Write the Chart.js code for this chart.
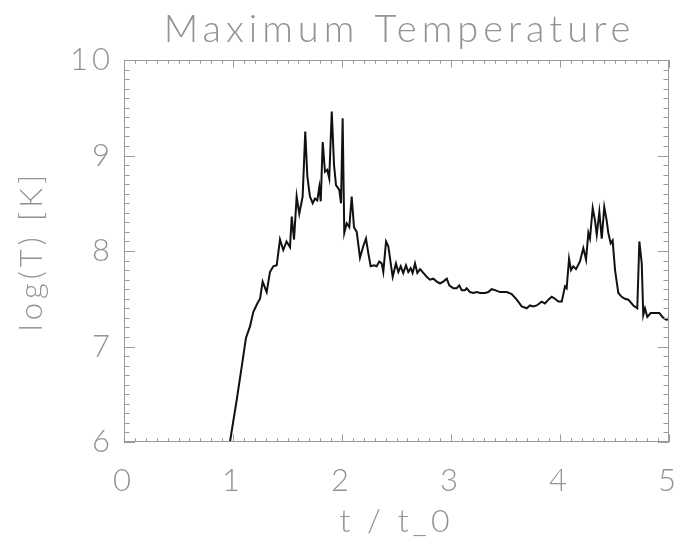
<!DOCTYPE html>
<html>
<head>
<meta charset="utf-8">
<title>Maximum Temperature</title>
<script src="https://cdn.jsdelivr.net/npm/chart.js@4.4.1/dist/chart.umd.min.js"></script>
<style>
  html, body { margin: 0; padding: 0; background: #fff; }
  #wrap { width: 677px; height: 541px; }
</style>
</head>
<body>
<div id="wrap"><canvas id="myChart" width="677" height="541"></canvas></div>
<script>
// time in units of t_0
const tValues = [
  0.972, 1.034, 1.080, 1.119, 1.156, 1.186, 1.223, 1.248, 1.272, 1.309,
  1.339, 1.370, 1.401, 1.431, 1.461, 1.491, 1.523, 1.539, 1.560, 1.584,
  1.608, 1.639, 1.663, 1.682, 1.706, 1.731, 1.752, 1.773, 1.792, 1.805,
  1.823, 1.844, 1.865, 1.883, 1.906, 1.927, 1.945, 1.975, 1.991, 2.006,
  2.021, 2.043, 2.067, 2.089, 2.110, 2.135, 2.165, 2.195, 2.220, 2.241,
  2.263, 2.294, 2.318, 2.342, 2.364, 2.379, 2.404, 2.425, 2.447, 2.465,
  2.495, 2.517, 2.539, 2.562, 2.587, 2.608, 2.630, 2.648, 2.670, 2.691,
  2.716, 2.746, 2.777, 2.807, 2.838, 2.869, 2.899, 2.929, 2.961, 2.984,
  3.021, 3.052, 3.076, 3.098, 3.128, 3.144, 3.174, 3.205, 3.236, 3.266,
  3.312, 3.342, 3.373, 3.404, 3.450, 3.511, 3.557, 3.603, 3.649, 3.694,
  3.725, 3.755, 3.786, 3.832, 3.862, 3.893, 3.924, 3.954, 3.985, 4.016,
  4.046, 4.061, 4.083, 4.101, 4.122, 4.147, 4.183, 4.214, 4.239, 4.260,
  4.275, 4.300, 4.321, 4.337, 4.361, 4.383, 4.406, 4.428, 4.443, 4.465,
  4.483, 4.505, 4.535, 4.566, 4.596, 4.627, 4.673, 4.709, 4.728, 4.750,
  4.764, 4.780, 4.801, 4.832, 4.872, 4.911, 4.948, 4.979, 5.000
];

// log10 of the peak temperature
const logT = [
  6.00, 6.44, 6.79, 7.09, 7.21, 7.36, 7.45, 7.50, 7.68, 7.57,
  7.78, 7.84, 7.85, 8.12, 8.01, 8.10, 8.04, 8.36, 8.12, 8.57,
  8.39, 8.57, 9.25, 8.78, 8.57, 8.50, 8.55, 8.53, 8.67, 8.52,
  9.14, 8.83, 8.85, 8.76, 9.46, 8.90, 8.69, 8.64, 8.50, 9.39,
  8.19, 8.29, 8.25, 8.57, 8.25, 8.20, 7.93, 8.05, 8.13, 7.98,
  7.84, 7.85, 7.84, 7.89, 7.87, 7.78, 8.10, 8.05, 7.87, 7.73,
  7.87, 7.78, 7.84, 7.77, 7.85, 7.78, 7.82, 7.77, 7.87, 7.77,
  7.81, 7.77, 7.73, 7.70, 7.71, 7.68, 7.66, 7.68, 7.71, 7.64,
  7.61, 7.61, 7.64, 7.59, 7.59, 7.61, 7.57, 7.56, 7.57, 7.56,
  7.56, 7.57, 7.60, 7.59, 7.57, 7.57, 7.55, 7.49, 7.42, 7.40,
  7.43, 7.42, 7.43, 7.47, 7.45, 7.49, 7.52, 7.50, 7.47, 7.47,
  7.63, 7.61, 7.92, 7.80, 7.84, 7.81, 7.89, 8.03, 7.91, 8.19,
  8.13, 8.45, 8.32, 8.17, 8.41, 8.13, 8.46, 8.32, 8.19, 8.08,
  8.11, 7.80, 7.56, 7.52, 7.50, 7.49, 7.43, 7.40, 8.10, 7.87,
  7.33, 7.40, 7.31, 7.35, 7.35, 7.35, 7.30, 7.28, 7.30
];

const xTicks = [0, 1, 2, 3, 4, 5];
const yTicks = [6, 7, 8, 9, 10];
const plotTitle = 'Maximum Temperature';

const textGray = '#939393';
const axisGray = '#9a9a9a';
const fontFamily = 'Lato, "Open Sans", sans-serif';

// IDL-style frame: box on all four sides, ticks pointing into the plot,
// title centred over the plot area rather than the whole canvas
const framePlugin = {
    id: 'frame',
    beforeDraw(chart) {
        chart.ctx.letterSpacing = '4px';
    },
    afterDatasetsDraw(chart) {
        const ctx = chart.ctx;
        const a = chart.chartArea;
        const xs = chart.scales.x;
        const ys = chart.scales.y;
        ctx.save();
        ctx.strokeStyle = axisGray;
        ctx.lineWidth = 1;
        ctx.beginPath();
        ctx.rect(a.left + 0.5, a.top + 0.5, a.right - a.left - 1, a.bottom - a.top - 1);

        for (let i = 0; i <= 50; i++) {
            const v = xs.min + i * 0.1;
            const px = Math.round(xs.getPixelForValue(v)) + 0.5;
            const len = (i % 10 === 0) ? 7.6 : 3.8;
            ctx.moveTo(px, a.bottom);
            ctx.lineTo(px, a.bottom - len);
            ctx.moveTo(px, a.top);
            ctx.lineTo(px, a.top + len);
        }
        for (let i = 0; i <= 40; i++) {
            const v = ys.min + i * 0.1;
            const py = Math.round(ys.getPixelForValue(v)) + 0.5;
            const len = (i % 10 === 0) ? 11 : 5.5;
            ctx.moveTo(a.left, py);
            ctx.lineTo(a.left + len, py);
            ctx.moveTo(a.right, py);
            ctx.lineTo(a.right - len, py);
        }
        ctx.stroke();

        ctx.fillStyle = textGray;
        ctx.font = '300 38px ' + fontFamily;
        ctx.letterSpacing = '5px';
        ctx.textAlign = 'center';
        ctx.textBaseline = 'middle';
        ctx.fillText(plotTitle, (a.left + a.right) / 2 + 3, 30);
        ctx.restore();
    }
};

const ctx = document.getElementById('myChart');

const myChart = new Chart(ctx, {
    type: 'line',
    data: {
        datasets: [{
            label: plotTitle,
            data: tValues.map((t, i) => ({ x: t, y: logT[i] })),
            borderColor: '#111',
            borderWidth: 2,
            pointRadius: 0,
            tension: 0,
            fill: false
        }]
    },
    options: {
        responsive: false,
        animation: false,
        events: [],
        layout: {
            padding: { left: 0, right: 8, top: 60, bottom: 0 }
        },
        plugins: {
            legend: { display: false },
            tooltip: { enabled: false },
            title: { display: false }
        },
        scales: {
            x: {
                type: 'linear',
                min: 0,
                max: 5,
                afterBuildTicks: (scale) => { scale.ticks = xTicks.map(v => ({ value: v })); },
                afterFit: (scale) => {
                    scale.height = 99;
                    scale.paddingLeft = 0;
                    scale.paddingRight = 0;
                },
                grid: { display: false, drawTicks: false },
                border: { display: false },
                ticks: {
                    color: textGray,
                    padding: 20,
                    maxRotation: 0,
                    font: { family: fontFamily, size: 31, weight: 300 }
                },
                title: {
                    display: true,
                    text: 't / t_0',
                    color: textGray,
                    align: 'center',
                    padding: { top: 0, bottom: 3 },
                    font: { family: fontFamily, size: 32, weight: 300, lineHeight: 1 }
                }
            },
            y: {
                type: 'linear',
                min: 6,
                max: 10,
                afterBuildTicks: (scale) => { scale.ticks = yTicks.map(v => ({ value: v })); },
                afterFit: (scale) => {
                    scale.width = 124;
                    scale.paddingTop = 0;
                    scale.paddingBottom = 0;
                },
                grid: { display: false, drawTicks: false },
                border: { display: false },
                ticks: {
                    color: textGray,
                    padding: 10,
                    font: { family: fontFamily, size: 31, weight: 300 }
                },
                title: {
                    display: true,
                    text: 'log(T) [K]',
                    color: textGray,
                    padding: { top: 16, bottom: 0 },
                    font: { family: fontFamily, size: 31, weight: 300, lineHeight: 1 }
                }
            }
        }
    },
    plugins: [framePlugin]
});
</script>
</body>
</html>
